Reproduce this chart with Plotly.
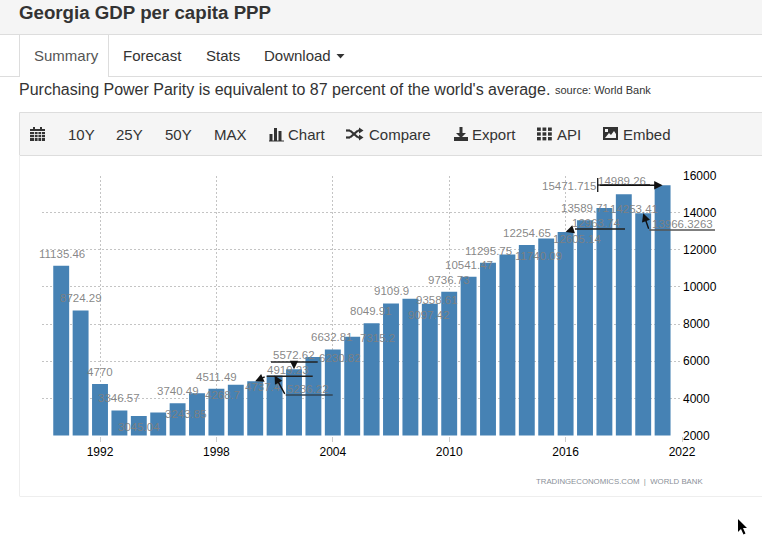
import plotly.graph_objects as go

W, H = 762, 553
FONT = "Liberation Sans"

years = list(range(1990, 2022))
gdp = [11135.46, 8724.29, 4770, 3346.57, 3045.04, 3243.85, 3740.49, 4268.7,
       4511.49, 4737.4, 4919.23, 5236.22, 5572.62, 6230.82, 6632.81, 7315.2,
       8049.91, 9109.9, 9358.61, 9097.42, 9736.73, 10541.47, 11295.75, 11740.09,
       12254.65, 12605.14, 12963.74, 13589.71, 14253.41, 14989.26, 13966.3263, 15471.715]
x_ticks = [1992, 1998, 2004, 2010, 2016, 2022]
y_ticks = [2000, 4000, 6000, 8000, 10000, 12000, 14000, 16000]

# pixel shift of each value label from the top of its bar
label_dx = [1, 0, 0, 0, 0, 28, 0, 25, 0, 27, 33, 33, 0, 27, -1, 25,
            -1, 0, 27, -1, 0, 0, 0, 31, 0, 31, 31, 0, 30, -1.5, 39, -94]
label_dy = [11.5, 12.7, 11.6, 12.4, -11, -1.7, 11.7, -2, 11.4, -2, 11, -14, 13.7, -1.5, 12.4, -1.3,
            12, 12.4, -1.5, -11.6, 11.8, 12.3, 11.9, -1.7, 12, -0.7, 9, 12.3, -1, 13, -11, -1]


def px(x):
    return x / W


def py(y):
    return 1 - y / H


def rect(x0, y0, x1, y1, color, line=None, layer="below"):
    return dict(type="rect", xref="paper", yref="paper", x0=px(x0), y0=py(y0), x1=px(x1), y1=py(y1),
                fillcolor=color, line=dict(color=line or color, width=1 if line else 0), layer=layer)


def seg(x0, y0, x1, y1, color="#222222", width=1.4, layer="above"):
    return dict(type="line", xref="paper", yref="paper", x0=px(x0), y0=py(y0), x1=px(x1), y1=py(y1),
                line=dict(color=color, width=width), layer=layer)


def poly(points, color, layer="above"):
    path = "M " + " L ".join(f"{px(a):.5f},{py(b):.5f}" for a, b in points) + " Z"
    return dict(type="path", xref="paper", yref="paper", path=path, fillcolor=color,
                line=dict(width=0), layer=layer)


def text(x, y, s, size=15, color="#333333", anchor="left", bold=False):
    return dict(xref="paper", yref="paper", x=px(x), y=py(y), text=f"<b>{s}</b>" if bold else s,
                showarrow=False, xanchor=anchor, yanchor="middle", borderpad=0, borderwidth=0,
                font=dict(family=FONT, size=size, color=color))


fig = go.Figure(go.Bar(x=years, y=gdp, width=0.82, marker=dict(color="#4682b4", line=dict(width=0))))

# page furniture
shapes = [
    rect(0, 0, W, 34, "#f5f5f5"),
    seg(0, 34.5, W, 34.5, "#dddddd", 1, "below"),
    seg(0, 76.5, W, 76.5, "#dddddd", 1, "below"),
    rect(19.5, 35, 108.5, 77, "#ffffff", layer="below"),
    seg(19.5, 35, 19.5, 77, "#dddddd", 1, "below"),
    seg(108.5, 35, 108.5, 77, "#dddddd", 1, "below"),
    rect(19.5, 112.5, W + 2, 155.5, "#f5f5f5", "#dddddd"),
    seg(19.5, 155, 19.5, 496, "#eeeeee", 1, "below"),
    seg(19.5, 496.5, W, 496.5, "#eeeeee", 1, "below"),
]

# toolbar icons
dark = "#333333"
shapes += [rect(30, 129, 45, 141, dark, layer="above"), rect(33, 127, 35, 130, dark, layer="above"),
           rect(40, 127, 42, 130, dark, layer="above"), seg(30, 131.5, 45, 131.5, "#f5f5f5", 1)]
for gx in (34.5, 38, 41.5):
    shapes.append(seg(gx, 132, gx, 141, "#f5f5f5", 0.8))
for gy in (134.5, 137.5):
    shapes.append(seg(30, gy, 45, gy, "#f5f5f5", 0.8))
shapes += [rect(269.5, 134, 272.5, 141, dark, layer="above"), rect(274, 128, 277, 141, dark, layer="above"),
           rect(278.5, 131, 281.5, 141, dark, layer="above"), seg(269, 141, 284, 141, dark, 1)]
shapes += [seg(346, 130.5, 350, 130.5, dark, 2.2), seg(350, 130.5, 358, 137.5, dark, 2.2),
           seg(358, 137.5, 360, 137.5, dark, 2.2), seg(346, 137.5, 350, 137.5, dark, 2.2),
           seg(350, 137.5, 358, 130.5, dark, 2.2), seg(358, 130.5, 360, 130.5, dark, 2.2),
           poly([(359, 127.5), (363.5, 130.5), (359, 133.5)], dark),
           poly([(359, 134.5), (363.5, 137.5), (359, 140.5)], dark)]
shapes += [rect(459.5, 127, 462.5, 133, dark, layer="above"),
           poly([(456, 133), (466, 133), (461, 138)], dark),
           rect(454, 137, 468, 141, dark, layer="above")]
for gx in (537, 542.5, 548):
    for gy in (127.5, 132.3, 137):
        shapes.append(rect(gx, gy, gx + 3.8, gy + 3.4, dark, layer="above"))
shapes += [rect(603, 127, 618, 140, dark, layer="above"),
           poly([(605, 138), (609, 133), (611, 135), (614, 131), (616, 134), (616, 138)], "#f5f5f5"),
           rect(605, 129, 608, 132, "#f5f5f5", layer="above")]

# connector lines for the shifted labels
shapes += [seg(597.7, 178, 597.7, 192), seg(597.7, 185, 650, 185),
           seg(575, 229, 625, 229),
           seg(649.3, 230, 715, 230, "#555555"),
           seg(285.7, 395, 332.7, 395, "#334455"),
           seg(266.7, 376.3, 312.7, 376.3),
           seg(271, 362, 317.7, 362)]

# mouse pointer
shapes.append(poly([(738, 519), (738, 532), (741, 529), (743.5, 534.5), (745.5, 533.5), (743, 528), (747, 528)], "#000000"))

annotations = [
    text(19, 13, "Georgia GDP per capita PPP", 18.7, "#333333", bold=True),
    text(34, 56, "Summary", 15, "#555555"),
    text(123, 56, "Forecast"),
    text(206, 56, "Stats"),
    text(264, 56, "Download"),
    text(19, 89, "Purchasing Power Parity is equivalent to 87 percent of the world's average.", 16),
    text(555, 90.5, "source: World Bank", 11),
    text(68, 134.5, "10Y"),
    text(116, 134.5, "25Y"),
    text(165, 134.5, "50Y"),
    text(214, 134.5, "MAX"),
    text(288, 134.5, "Chart"),
    text(369, 134.5, "Compare"),
    text(472, 134.5, "Export"),
    text(557, 134.5, "API"),
    text(623, 134.5, "Embed"),
    text(536, 481, "TRADINGECONOMICS.COM  |  WORLD BANK", 7.8, "#8a8f98"),
]
shapes.append(poly([(336.5, 54), (344.5, 54), (340.5, 58.5)], dark))

for yr, val, dx, dy in zip(years, gdp, label_dx, label_dy):
    annotations.append(dict(x=yr, y=val, text=str(val), showarrow=False, xshift=dx, yshift=dy,
                            xanchor="center", yanchor="middle",
                            font=dict(family=FONT, size=11.5, color="rgba(128,128,128,0.95)")))

# arrow tips landing on the bar tops: year, value, tail offset in pixels
arrows = [(2021, 15471.715, -64, 0), (2016, 12963.74, 9, -3), (2020, 13966.3263, 6, 17),
          (2001, 5236.22, 11, 20), (2000, 4919.23, 11, -5), (2002, 5572.62, 0, -6)]
for yr, val, ax, ay in arrows:
    annotations.append(dict(x=yr, y=val, text="", showarrow=True, ax=ax, ay=ay, axref="pixel", ayref="pixel",
                            arrowhead=2, arrowsize=1.2, arrowwidth=1.4, arrowcolor="#111111"))

fig.update_layout(
    width=W, height=H, margin=dict(l=0, r=0, t=0, b=0, pad=0), autosize=False,
    paper_bgcolor="#ffffff", plot_bgcolor="#ffffff", showlegend=False,
    font=dict(family=FONT, size=12, color="#000000"),
    shapes=shapes, annotations=annotations, hovermode=False,
    xaxis=dict(domain=[px(42), px(682)], range=[1989.01, 2022], tickmode="array", tickvals=x_ticks,
               ticktext=[str(t) for t in x_ticks], showgrid=True, gridcolor="#c4c4c4", griddash="2px,2px",
               gridwidth=1, zeroline=False, ticks="outside", ticklen=5, tickcolor="#cccccc",
               tickfont=dict(family=FONT, size=12, color="#000000"), showline=False, automargin=False),
    yaxis=dict(domain=[py(435.5), py(175.5)], range=[2000, 16000], tickmode="array", tickvals=y_ticks,
               ticktext=[str(t) for t in y_ticks], side="right", showgrid=True, gridcolor="#c4c4c4",
               griddash="2px,2px", gridwidth=1, zeroline=False, ticks="", showline=False, automargin=False,
               tickfont=dict(family=FONT, size=12, color="#000000")),
)

fig.write_html("out.html", config=dict(displayModeBar=False),
               post_script="document.body.style.margin='0';document.body.style.overflow='hidden';")
